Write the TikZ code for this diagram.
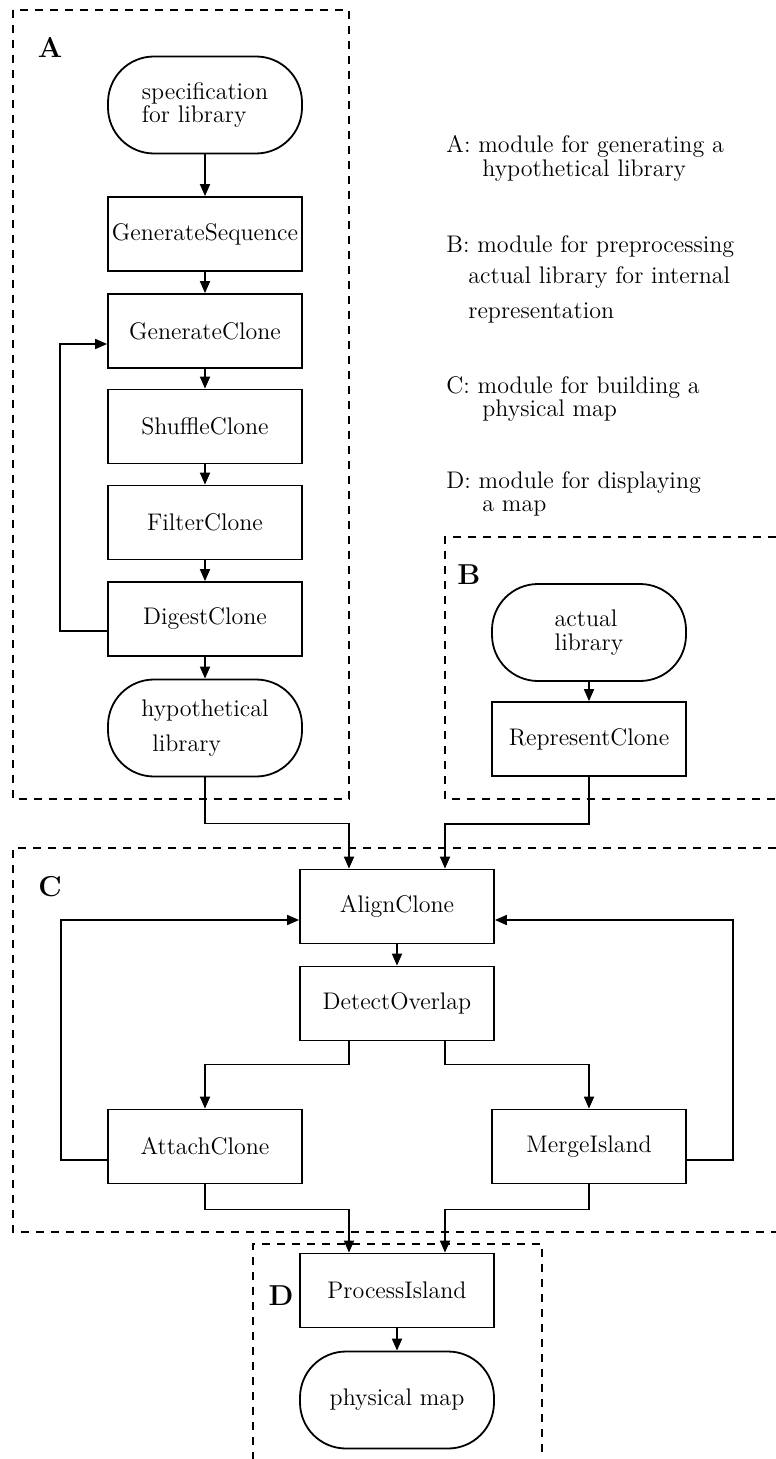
\documentclass[tikz,border=0pt]{standalone}
\usetikzlibrary{arrows.meta}
\begin{document}
\begin{tikzpicture}[x=0.5pt,y=-0.5pt,
    font=\fontsize{12}{11.75}\selectfont,
    proc/.style={draw,line width=0.9pt,minimum width=97pt,minimum height=37pt,inner sep=0pt},
    term/.style={draw,line width=0.9pt,rounded corners=23pt,minimum width=97pt,minimum height=48.5pt,inner sep=0pt,align=left},
    module/.style={line width=0.8pt,dash pattern=on 4pt off 3.5pt},
    tag/.style={font=\fontsize{14.4}{16}\selectfont\bfseries},
    note/.style={anchor=north west,align=left,inner sep=0pt},
    arr/.style={line width=0.9pt,-{Triangle[length=6pt,width=5pt]}}]
  \useasboundingbox (0,0) rectangle (775,1459);
  % modules
  \draw[module] (13,10) rectangle (349,799);
  \draw[module] (776,537) -- (445,537) -- (445,799) -- (776,799);
  \draw[module] (776,848) -- (13,848) -- (13,1232) -- (776,1232);
  \draw[module] (253,1460) -- (253,1244) -- (542,1244) -- (542,1460);
  \node[tag] (tagA) at (50,47) {A};
  \node[tag] (tagB) at (469,575) {B};
  \node[tag] (tagC) at (50,887) {C};
  \node[tag] (tagD) at (281,1296) {D};
  % legend
  \node[note] (noteA) at (446,135) {A: module for generating a\\\hspace*{18pt}hypothetical library};
  \node[note] (noteB) at (446,235) {B: module for preprocessing\\[4pt]\hspace*{11pt}actual library for internal\\[5.5pt]\hspace*{11pt}representation};
  \node[note] (noteC) at (446,376) {C: module for building a\\\hspace*{18pt}physical map};
  \node[note] (noteD) at (446,471) {D: module for displaying\\\hspace*{18pt}a map};
  % A
  \node[term] (spec) at (205,105) {specification\\for library};
  \node[proc] (genseq) at (205,234) {GenerateSequence};
  \node[proc] (genclone) at (205,331) {GenerateClone};
  \node[proc] (shuffle) at (205,426.5) {ShuffleClone};
  \node[proc] (filter) at (205,522.5) {FilterClone};
  \node[proc] (digest) at (205,619) {DigestClone};
  \node[term] (hyplib) at (205,728) {hypothetical\\[5.5pt]\hspace*{5.5pt}library};
  % B
  \node[term] (actlib) at (589,632.5) {actual\\library};
  \node[proc] (repclone) at (589,739) {RepresentClone};
  % C
  \node[proc] (align) at (397,906.5) {AlignClone};
  \node[proc] (detect) at (397,1003.5) {DetectOverlap};
  \node[proc] (attach) at (205,1146.5) {AttachClone};
  \node[proc] (merge) at (589,1146.5) {MergeIsland};
  % D
  \node[proc] (process) at (397,1290.5) {ProcessIsland};
  \node[term] (physmap) at (397,1400) {physical map};
  \begin{scope}[arr]
    \draw (spec) to (genseq);
    \draw (genseq) to (genclone);
    \draw (genclone) to (shuffle);
    \draw (shuffle) to (filter);
    \draw (filter) to (digest);
    \draw (digest) to (hyplib);
    \draw ([yshift=-6pt]digest.west) -- ++(-47,0) |- ([yshift=-6.5pt]genclone.west);
    \draw (actlib) to (repclone);
    \draw (hyplib.south) -- ++(0,46) -| ([xshift=-24pt]align.north);
    \draw (repclone.south) -- ++(0,47) -| ([xshift=24pt]align.north);
    \draw (align) to (detect);
    \draw ([xshift=-24pt]detect.south) -- ++(0,23) -| (attach.north);
    \draw ([xshift=24pt]detect.south) -- ++(0,23) -| (merge.north);
    \draw ([yshift=-6.75pt]attach.west) -- ++(-46,0) |- ([yshift=-6.75pt]align.west);
    \draw ([yshift=-6.75pt]merge.east) -- ++(46,0) |- ([yshift=-6.75pt]align.east);
    \draw (attach.south) -- ++(0,25) -| ([xshift=-24pt]process.north);
    \draw (merge.south) -- ++(0,25) -| ([xshift=24pt]process.north);
    \draw (process) to (physmap);
  \end{scope}
\end{tikzpicture}
\end{document}
